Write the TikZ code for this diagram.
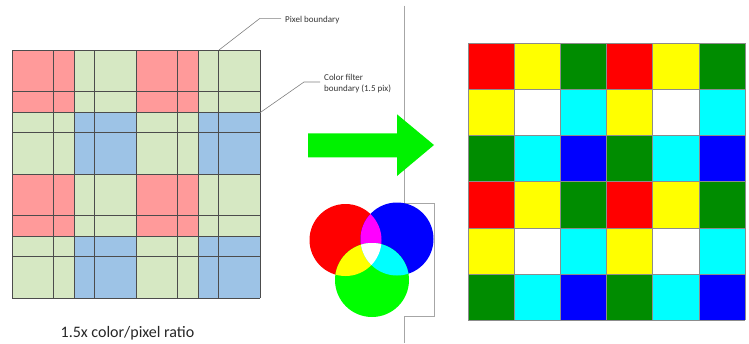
\documentclass[tikz,border=0pt]{standalone}
\usepackage{fontspec}
\setmainfont{Carlito}
\definecolor{lred}{HTML}{FF9A9A}
\definecolor{lgreen}{HTML}{D6E8C3}
\definecolor{lblue}{HTML}{9DC3E6}
\definecolor{cR}{HTML}{FF0000}
\definecolor{cY}{HTML}{FFFF00}
\definecolor{cG}{HTML}{008C00}
\definecolor{cC}{HTML}{00FFFF}
\definecolor{cB}{HTML}{0000FF}
\definecolor{cW}{HTML}{FFFFFF}
\definecolor{brightgreen}{HTML}{00F200}
\definecolor{vred}{HTML}{FF0000}
\definecolor{vgreen}{HTML}{00FF00}
\definecolor{vblue}{HTML}{0000FF}
\definecolor{vmag}{HTML}{FF00FF}
\definecolor{vyel}{HTML}{FFFF00}
\definecolor{vcyan}{HTML}{00FFFF}
\tikzset{
  gridline/.style={draw=black!70, line width=0.7pt},
  cellline/.style={draw=black!45, line width=0.7pt},
  leader/.style={draw=black!50, line width=0.6pt},
  smalllabel/.style={inner sep=0pt, font=\fontsize{9}{11}\selectfont, text=black!80, align=left},
  divider/.style={draw=black!35, line width=1pt}
}
\begin{document}
\begin{tikzpicture}[x=1pt,y=-1pt]
\useasboundingbox (0,0) rectangle (749,343);

% ---------- left: colour filter grid ----------
\fill[lgreen] (12,50) rectangle (260,298);
\foreach \r in {0,2} \foreach \c in {0,2}
  \fill[lred] ({12+62*\c},{50+62*\r}) rectangle ++(62,62);
\foreach \r in {1,3} \foreach \c in {1,3}
  \fill[lblue] ({12+62*\c},{50+62*\r}) rectangle ++(62,62);
\foreach \k in {0,...,6} {
  \draw[gridline] ({12+41.333*\k},50) -- ({12+41.333*\k},298);
  \draw[gridline] (12,{50+41.333*\k}) -- (260,{50+41.333*\k});
}
\foreach \k in {1,2,3} {
  \draw[gridline] ({12+62*\k},50) -- ({12+62*\k},298);
  \draw[gridline] (12,{50+62*\k}) -- (260,{50+62*\k});
}

% ---------- labels ----------
\coordinate (pbpt) at (219,50);
\coordinate (cfpt) at (260,112.7);
\node[smalllabel, anchor=base west] (pixlab) at (285,22.3) {Pixel boundary};
\node[smalllabel, anchor=north west] (cflab) at (324,74.5) {Color filter\\boundary (1.5 pix)};
\draw[leader] (pbpt) -- (260,18.3) -- (281,18.3);
\draw[leader] (cfpt) -- (304,82) -- (320,82);

\node[inner sep=0pt, anchor=base, font=\fontsize{16}{19}\selectfont, text=black!85] (cap) at (127.5,337) {1.5x color/pixel ratio};

% ---------- divider ----------
\draw[divider] (404,5.5) -- (404,203) -- (434,203) -- (434,316) -- (404,316) -- (404,343);

% ---------- arrow ----------
\fill[brightgreen] (308,133.3) -- (397,133.3) -- (397,114.3) -- (434,145) -- (397,176) -- (397,157.3) -- (308,157.3) -- cycle;

% ---------- Venn ----------
\coordinate (R) at (345.5,240);
\coordinate (B) at (397,239);
\coordinate (G) at (372,280);
\fill[vred] (R) circle (36);
\fill[vblue] (B) circle (36.5);
\fill[vgreen] (G) circle (37);
\begin{scope}
  \clip (R) circle (36);
  \fill[vmag] (B) circle (36.5);
  \fill[vyel] (G) circle (37);
\end{scope}
\begin{scope}
  \clip (B) circle (36.5);
  \fill[vcyan] (G) circle (37);
\end{scope}
\begin{scope}
  \clip (R) circle (36);
  \clip (B) circle (36.5);
  \fill[white] (G) circle (37);
\end{scope}

% ---------- right: resulting pixel grid ----------
\def\cs{46.17}
\foreach \r in {0,3} \foreach [count=\c from 0] \col in {cR,cY,cG,cR,cY,cG}
  \fill[\col] ({468+\cs*\c},{43.3+\cs*\r}) rectangle ++(\cs,\cs);
\foreach \r in {1,4} \foreach [count=\c from 0] \col in {cY,cW,cC,cY,cW,cC}
  \fill[\col] ({468+\cs*\c},{43.3+\cs*\r}) rectangle ++(\cs,\cs);
\foreach \r in {2,5} \foreach [count=\c from 0] \col in {cG,cC,cB,cG,cC,cB}
  \fill[\col] ({468+\cs*\c},{43.3+\cs*\r}) rectangle ++(\cs,\cs);
\foreach \k in {0,...,6} {
  \draw[cellline] ({468+\cs*\k},43.3) -- ({468+\cs*\k},320.3);
  \draw[cellline] (468,{43.3+\cs*\k}) -- (745,{43.3+\cs*\k});
}
\end{tikzpicture}
\end{document}
